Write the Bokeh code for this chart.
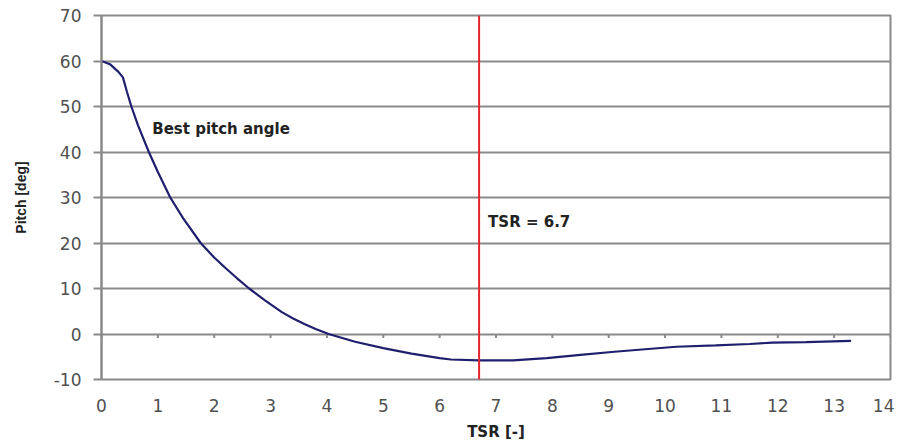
from bokeh.plotting import figure
from bokeh.models import Range1d, FixedTicker, Span, Label
from bokeh.embed import file_html
from bokeh.resources import INLINE

# Data
tsr = [0, 0.15, 0.3, 0.38, 0.45, 0.53, 0.65, 0.84, 1.0, 1.22, 1.45, 1.76, 2.0, 2.2,
       2.4, 2.62, 2.9, 3.2, 3.4, 3.6, 3.8, 4.03, 4.5, 5.0, 5.5, 6.0, 6.2, 6.7, 7.3,
       7.9, 8.5, 9.1, 9.7, 10.2, 10.9, 11.5, 11.9, 12.5, 13.3]
pitch = [60, 59.3, 57.6, 56.4, 53.3, 50, 45.8, 40, 35.6, 30, 25.4, 20, 16.8, 14.5,
         12.3, 10, 7.4, 4.8, 3.4, 2.2, 1.1, 0, -1.7, -3.1, -4.3, -5.3, -5.6, -5.8, -5.8,
         -5.3, -4.6, -3.9, -3.3, -2.8, -2.5, -2.2, -1.9, -1.8, -1.5]
x_ticks = list(range(0, 15))
y_ticks = [-10, 0, 10, 20, 30, 40, 50, 60, 70]
best_tsr = 6.7
curve_label = "Best pitch angle"
tsr_label = "TSR = 6.7"

FONT = "DejaVu Sans"
GRID = "#8a8a8a"
TXT = "#505050"

p = figure(output_backend="svg", toolbar_location=None,
           frame_width=789, frame_height=364,
           min_border_left=101, min_border_right=4, min_border_top=15, min_border_bottom=54,
           x_range=Range1d(0, 14), y_range=Range1d(-10, 70),
           background_fill_color="white", border_fill_color="white")

p.outline_line_color = GRID
p.outline_line_width = 2

# grid
p.xgrid.grid_line_color = None
p.ygrid.grid_line_color = GRID
p.ygrid.grid_line_width = 2

# axes
p.xaxis.ticker = FixedTicker(ticks=x_ticks)
p.yaxis.ticker = FixedTicker(ticks=y_ticks)
p.yaxis.major_label_overrides = {t: str(t) for t in y_ticks}
p.xaxis.axis_line_color = None
p.xaxis.major_tick_line_color = None
p.xaxis.minor_tick_line_color = None
p.xaxis.major_label_standoff = 13
p.yaxis.axis_line_color = GRID
p.yaxis.axis_line_width = 2
p.yaxis.major_tick_line_color = GRID
p.yaxis.major_tick_line_width = 2
p.yaxis.major_tick_out = 8
p.yaxis.major_tick_in = 0
p.yaxis.minor_tick_line_color = None
p.yaxis.major_label_standoff = 12

for ax in (p.xaxis, p.yaxis):
    ax.major_label_text_font = FONT
    ax.major_label_text_font_size = "17px"
    ax.major_label_text_color = TXT
    ax.axis_label_text_font_style = "bold"
    ax.axis_label_text_color = "#222222"

p.xaxis.axis_label = "TSR [-]"
p.xaxis.axis_label_text_font = FONT
p.xaxis.axis_label_text_font_size = "15px"
p.xaxis.axis_label_standoff = 8

p.yaxis.axis_label = "Pitch [deg]"
p.yaxis.axis_label_text_font = "Liberation Sans"
p.yaxis.axis_label_text_font_size = "14px"
p.yaxis.axis_label_standoff = 22

# tick marks on the zero line
p.segment(x0=x_ticks, x1=x_ticks, y0=[0] * len(x_ticks), y1=[-0.9] * len(x_ticks),
          line_color=GRID, line_width=2)

# curve
p.line(tsr, pitch, line_color="#1f1f6e", line_width=2.2)

# optimal TSR marker
p.add_layout(Span(location=best_tsr, dimension="height", line_color="#e3262b", line_width=2))

p.add_layout(Label(x=0.9, y=45, text=curve_label, text_font=FONT, text_font_style="bold",
                   text_font_size="15px", text_color="#222222", text_baseline="middle"))
p.add_layout(Label(x=best_tsr, x_offset=9, y=24.6, text=tsr_label, text_font=FONT,
                   text_font_style="bold", text_font_size="15px", text_color="#222222",
                   text_baseline="middle"))

open("out.html", "w").write(file_html(p, INLINE))
